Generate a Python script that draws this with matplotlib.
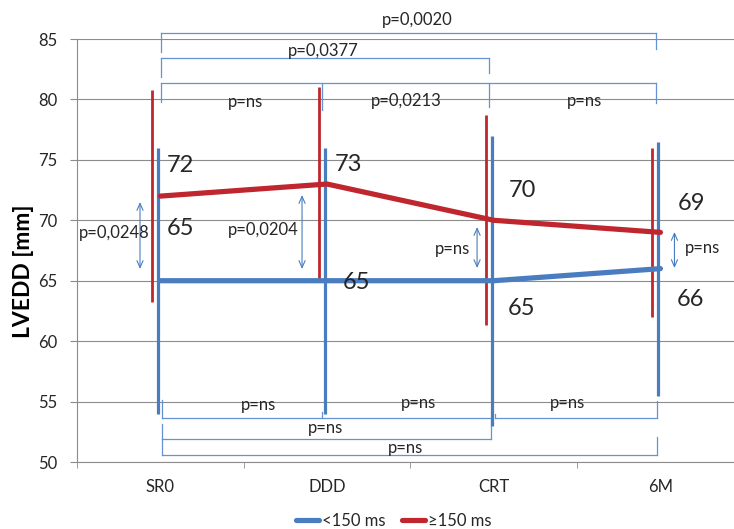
import numpy as np
import matplotlib.pyplot as plt
from matplotlib.lines import Line2D

plt.rcParams['font.family'] = ['Lato', 'DejaVu Sans']

# LVEDD by QRS group at each time point
timepoints = ['SR0', 'DDD', 'CRT', '6M']
lvedd_short = [65, 65, 65, 66]      # QRS < 150 ms
lvedd_long = [72, 73, 70, 69]       # QRS >= 150 ms
sd_short = [11, 11, 12, 10.5]
sd_long = [8.8, 8, 8.7, 7]

# between-group p-values at each time point
p_between = ['p=0,0248', 'p=0,0204', 'p=ns', 'p=ns']
# within-group p-values between time points
p_long = ['p=0,0020', 'p=0,0377', 'p=ns', 'p=0,0213', 'p=ns']
p_short = ['p=ns', 'p=ns', 'p=ns', 'p=ns', 'p=ns']

blue = '#4a7dc0'
red = '#c0262d'
bracket_col = '#6592d2'
grid_col = '#8c8c8c'
text_col = '#262626'


def bracket(ax, x0, x1, y, legs):
    # horizontal bar with vertical legs given as (x, y_end)
    ax.plot([x0, x1], [y, y], color=bracket_col, lw=0.9, clip_on=False, zorder=2)
    for lx, ly in legs:
        ax.plot([lx, lx], [y, ly], color=bracket_col, lw=0.9, clip_on=False, zorder=2)


def plotLVEDD():
    fig = plt.figure(figsize=(7.34, 5.29), dpi=100)
    ax = fig.add_axes([77 / 734, 67 / 529, 657 / 734, 423 / 529])
    x = np.arange(len(timepoints))

    # error bars sit just left of each point
    ax.vlines(x - 0.048, np.array(lvedd_long) - sd_long, np.array(lvedd_long) + sd_long,
              color=red, lw=2.0, zorder=3)
    ax.vlines(x - 0.012, np.array(lvedd_short) - sd_short, np.array(lvedd_short) + sd_short,
              color=blue, lw=2.3, zorder=3)

    ax.plot(x, lvedd_short, color=blue, lw=3.75, solid_capstyle='round', zorder=4)
    ax.plot(x, lvedd_long, color=red, lw=3.75, solid_capstyle='round', zorder=5)

    # value labels, offset in pixels from the points
    long_offsets = [(6, 24), (8, 13), (15, 23), (17, 22)]
    short_offsets = [(6, 46), (16, -8), (14, -34), (16, -37)]
    for i in range(len(timepoints)):
        ax.annotate(str(lvedd_long[i]), xy=(x[i], lvedd_long[i]), xytext=long_offsets[i],
                    textcoords='offset pixels', fontsize=17, color=text_col,
                    ha='left', va='baseline', zorder=6)
        ax.annotate(str(lvedd_short[i]), xy=(x[i], lvedd_short[i]), xytext=short_offsets[i],
                    textcoords='offset pixels', fontsize=17, color=text_col,
                    ha='left', va='baseline', zorder=6)

    # between-group arrows
    arrow_x = [-0.122, 0.85, 1.90, 3.084]
    arrow_y = [(65.97, 71.51), (65.97, 72.09), (66.05, 69.44), (66.05, 69.03)]
    label_xy = [(-0.278, 68.95), (0.616, 69.2), (1.75, 67.62), (3.255, 67.7)]
    for ax_x, (y0, y1), (tx, ty), txt in zip(arrow_x, arrow_y, label_xy, p_between):
        ax.annotate('', xy=(ax_x, y1), xytext=(ax_x, y0),
                    arrowprops=dict(arrowstyle='<->,head_length=0.5,head_width=0.22',
                                    color=blue, lw=0.8, shrinkA=0, shrinkB=0,
                                    mutation_scale=10))
        ax.text(tx, ty, txt, fontsize=12, color=text_col, ha='center', va='center')

    # upper brackets (>= 150 ms)
    bracket(ax, 0.004, 2.973, 85.5, [(0.004, 83.9), (2.973, 84.17)])
    bracket(ax, 0.004, 1.972, 83.43, [(0.004, 81.86), (1.972, 82.19)])
    bracket(ax, 0.004, 2.973, 81.36, [(0.004, 79.8), (0.97, 79.13),
                                     (1.972, 79.37), (2.973, 79.7)])
    top_xy = [(1.54, 86.57), (0.98, 84.0), (0.508, 79.8), (1.474, 79.87), (2.547, 79.87)]
    for (tx, ty), txt in zip(top_xy, p_long):
        ax.text(tx, ty, txt, fontsize=12, color=text_col, ha='center', va='center')

    # lower brackets (< 150 ms)
    bracket(ax, 0.01, 1.99, 53.64, [(0.01, 55.1), (0.97, 54.1), (1.99, 55.13)])
    bracket(ax, 2.008, 2.98, 53.64, [(2.008, 54.0), (2.98, 55.05)])
    bracket(ax, 0.01, 1.983, 51.9, [(0.01, 53.18), (1.983, 53.47)])
    bracket(ax, 0.01, 2.98, 50.58, [(0.01, 51.9), (2.98, 52.07)])
    bottom_xy = [(0.586, 54.72), (1.546, 54.88), (2.44, 54.88), (0.988, 52.81), (1.468, 51.16)]
    for (tx, ty), txt in zip(bottom_xy, p_short):
        ax.text(tx, ty, txt, fontsize=12, color=text_col, ha='center', va='center')

    # axes styling
    ax.set_xlim(-0.5, 657 / 166.7 - 0.5)
    ax.set_ylim(50, 85)
    ax.set_yticks(np.arange(50, 86, 5))
    ax.set_xticks(x)
    ax.set_xticklabels(timepoints)
    ax.set_xticks(np.arange(-0.5, 3.0, 1.0), minor=True)
    ax.tick_params(axis='x', which='major', length=0, pad=12, labelsize=12, labelcolor=text_col)
    ax.tick_params(axis='x', which='minor', length=4, color=grid_col, direction='out')
    ax.tick_params(axis='y', length=5, pad=9, color=grid_col, labelsize=12, labelcolor=text_col)
    ax.yaxis.grid(True, color=grid_col, lw=0.8)
    ax.set_axisbelow(True)
    for side in ['top', 'right']:
        ax.spines[side].set_visible(False)
    for side in ['left', 'bottom']:
        ax.spines[side].set_color(grid_col)
        ax.spines[side].set_linewidth(0.8)

    fig.text(0.032, 0.4868, 'LVEDD [mm]', rotation=90, ha='center', va='center',
             fontsize=16.5, fontweight='bold', color='black')

    handles = [Line2D([], [], color=blue, lw=3.75, solid_capstyle='round'),
               Line2D([], [], color=red, lw=3.75, solid_capstyle='round')]
    fig.legend(handles, ['<150 ms', '\u2265150 ms'], loc='center', ncol=2,
               bbox_to_anchor=(0.536, 0.016), frameon=False, fontsize=12,
               handlelength=1.4, handletextpad=0.15, columnspacing=1.0, borderpad=0,
               labelcolor=text_col)

    fig.savefig('out.png', dpi=100)


if __name__ == '__main__':
    plotLVEDD()
